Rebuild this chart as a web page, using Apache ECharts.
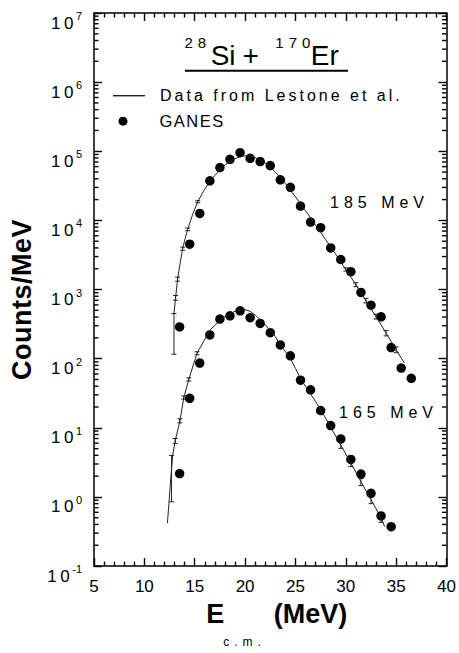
<!DOCTYPE html>
<html><head><meta charset="utf-8">
<script src="https://cdn.jsdelivr.net/npm/echarts@6/dist/echarts.min.js"></script>
<style>html,body{margin:0;padding:0;background:#fff;overflow:hidden}#main{width:459px;height:653px}</style>
</head><body><div id="main"></div>
<script>
// ---------------- data ----------------
const ganes185E = [13.5,14.5,15.5,16.5,17.5,18.5,19.5,20.5,21.5,22.5,23.5,24.5,25.5,26.5,27.5,28.5,29.5,30.5,31.5,32.5,33.5,34.5,35.5,36.5];
const ganes185Counts = [288,4530,12600,37400,58200,76600,95500,79100,71000,62200,38600,30100,16100,9480,7850,4000,2720,1810,910,595,404,145,73.3,52];
const ganes165E = [13.5,14.5,15.5,16.5,17.5,18.5,19.5,20.5,21.5,22.5,23.5,24.5,25.5,26.5,27.5,28.5,29.5,30.5,31.5,32.5,33.5,34.5];
const ganes165Counts = [2.18,26.7,86.5,221,374,417,492,391,324,238,158,110,48.9,35.5,17.8,10.8,6.9,3.49,2.14,1.13,0.532,0.371];

const lestone185E = [12.94,13.1,13.3,13.55,13.8,14.05,14.3,14.8,15.3,15.9,16.5,17.0,17.5,18.0,18.5,19.0,19.5,20.0,20.5,21.0,21.5,22.0,22.5,23.0,23.5,24.0,24.5,25.0,25.5,26.0,26.5,27.0,27.5,28.0,28.5,29.0,29.5,30.0,30.5,31.0,31.5,32.0,32.5,33.0,33.5,34.0,34.5,35.0,35.5,35.82];
const lestone185Counts = [447,759,1413,2399,3890,5495,7413,12300,18600,26900,36300,44700,53700,63100,71600,78500,83200,86100,85100,81300,75000,67600,58900,50100,41700,33900,27500,21900,17400,13800,10960,8510,6760,5250,4170,3240,2510,1950,1510,1175,912,692,525,407,309,234,178,135,102,87];
const lestone165E = [12.29,12.45,12.62,12.81,13.06,13.53,13.92,14.41,15.23,16.54,17.0,17.5,18.0,18.5,19.0,19.5,20.0,20.5,21.0,21.5,22.0,22.5,23.0,23.5,24.0,24.5,25.0,25.5,26.0,26.5,27.0,27.5,28.0,28.5,29.0,29.5,30.0,30.5,31.0,31.5,32.0,32.5,33.0,33.5,33.86];
const lestone165Counts = [0.417,0.851,1.86,3.98,6.46,12.6,27.5,50.1,120,263,302,355,407,447,484,507,513,484,427,367,309,257,209,158,126,100,72.4,51.3,39.8,30.9,24.0,18.2,13.8,10.2,7.59,5.62,4.17,3.09,2.29,1.66,1.23,0.912,0.676,0.490,0.372];

const lestone185ErrE  = [12.94,13.1,13.3,13.8,14.3,15.3,30.0,31.0,32.0,33.0,34.0,35.0];
const lestone185ErrLo = [116,700,1320,3700,7100,18000,1850,1100,640,375,214,122];
const lestone185ErrHi = [450,820,1510,4100,7750,19300,2060,1255,745,440,256,148];
const lestone165ErrE  = [12.7,13.06,13.53,13.92,14.41,15.23,29.5,30.5,31.5,32.5,33.5];
const lestone165ErrLo = [0.85,5.9,11.8,26,47.5,114,5.05,2.75,1.46,0.80,0.43];
const lestone165ErrHi = [3.98,7.0,13.5,29,53,126,6.2,3.43,1.86,1.03,0.55];

const xMin = 5, xMax = 40, xStep = 5;
const yMin = 0.1, yMax = 1e7;
const yDecadeExps = [-1,0,1,2,3,4,5,6];
const minorMultipliers = [2,3,4,5,6,7,8,9];

// ---------------- chart ----------------
const FONT = '"Liberation Sans", Arial, Helvetica, sans-serif';
const INK = '#000';
const zip = (a, b) => a.map((v, i) => [v, b[i]]);
const zip3 = (a, b, c) => a.map((v, i) => [v, b[i], c[i]]);
const minorTickVals = [];
yDecadeExps.forEach(e => minorMultipliers.forEach(m => minorTickVals.push([xMin, m * Math.pow(10, e)])));

function errRender(params, api) {
  const x = api.value(0), lo = api.value(1), hi = api.value(2);
  const pl = api.coord([x, lo]), ph = api.coord([x, hi]);
  const w = 2.5, st = { stroke: '#222', lineWidth: 1 };
  return { type: 'group', children: [
    { type: 'line', shape: { x1: pl[0], y1: pl[1], x2: ph[0], y2: ph[1] }, style: st },
    { type: 'line', shape: { x1: pl[0] - w, y1: pl[1], x2: pl[0] + w, y2: pl[1] }, style: st },
    { type: 'line', shape: { x1: ph[0] - w, y1: ph[1], x2: ph[0] + w, y2: ph[1] }, style: st }
  ]};
}
function minorRender(params, api) {
  const y = api.coord([xMin, api.value(1)])[1];
  const xl = api.coord([xMin, yMin])[0], xr = api.coord([xMax, yMin])[0];
  return { type: 'group', children: [
    { type: 'line', shape: { x1: xl, y1: y, x2: xl + 4.5, y2: y }, style: { stroke: '#000', lineWidth: 1.4 } },
    { type: 'line', shape: { x1: xr - 4.5, y1: y, x2: xr, y2: y }, style: { stroke: '#000', lineWidth: 1.4 } }
  ]};
}

function xAxisCfg(pos, extra) {
  return Object.assign({
    type: 'value', position: pos, min: xMin, max: xMax, interval: xStep,
    axisLine: { show: true, lineStyle: { color: '#000', width: 1.5 } },
    axisTick: { show: true, inside: true, length: 8, lineStyle: { color: '#000', width: 1.4 } },
    minorTick: { show: true, splitNumber: 5, length: 4.5, lineStyle: { color: '#000', width: 1.4 } },
    splitLine: { show: false }
  }, extra);
}
function yAxisCfg(pos, extra) {
  return Object.assign({
    type: 'log', position: pos, min: yMin, max: yMax, splitNumber: 8,
    axisLine: { show: true, lineStyle: { color: '#000', width: 1.5 } },
    axisTick: { show: true, inside: true, length: 8, lineStyle: { color: '#000', width: 1.4 } },
    splitLine: { show: false }
  }, extra);
}

const option = {
  animation: false,
  grid: { left: 92, right: 10, top: 13, bottom: 81 },
  xAxis: [
    xAxisCfg('bottom', {
      axisLabel: { show: true, fontSize: 17, color: INK, margin: 12, fontFamily: FONT },
      name: '{e|E}{s|c.m.}{u|(MeV)}', nameLocation: 'middle', nameGap: 30,
      nameTextStyle: { padding: [0, 0, 0, 13], rich: {
        e: { fontSize: 27, fontWeight: 'bold', lineHeight: 30, verticalAlign: 'top', fontFamily: FONT, color: INK },
        s: { fontSize: 12, lineHeight: 14, padding: [36, 0, 0, 9], verticalAlign: 'top', fontFamily: FONT, color: INK },
        u: { fontSize: 27, fontWeight: 'bold', lineHeight: 30, padding: [0, 0, 0, 18], verticalAlign: 'top', fontFamily: FONT, color: INK }
      }}
    }),
    xAxisCfg('top', { axisLabel: { show: false } })
  ],
  yAxis: [
    yAxisCfg('left', {
      axisLabel: {
        show: true, margin: 12, padding: [12, 0, 0, 0],
        formatter: v => '{a|1}{b|0}{s|' + Math.round(Math.log10(v)) + '}',
        rich: {
          a: { fontSize: 17, lineHeight: 17, padding: [4, 3.5, 0, 0], verticalAlign: 'top', fontFamily: FONT, color: INK },
          b: { fontSize: 17, lineHeight: 17, padding: [4, 0, 0, 0], verticalAlign: 'top', fontFamily: FONT, color: INK },
          s: { fontSize: 11, lineHeight: 11, padding: [0, 0, 0, 2.5], verticalAlign: 'top', fontFamily: FONT, color: INK }
        }
      },
      name: 'Counts/MeV', nameLocation: 'middle', nameGap: 59,
      nameTextStyle: { fontSize: 27, fontWeight: 'bold', color: INK, fontFamily: FONT, padding: [0, 20, 0, 0] }
    }),
    yAxisCfg('right', { axisLabel: { show: false } })
  ],
  legend: [
    { data: [{ name: 'Data from Lestone et al.', icon: 'rect' }], left: 113, top: 87.7, padding: 0,
      itemWidth: 32, itemHeight: 1.4, selectedMode: false, formatter: '{t|{name}}',
      itemStyle: { color: '#222' },
      textStyle: { color: INK, fontSize: 16, fontFamily: FONT,
        rich: { t: { fontSize: 16, lineHeight: 18, padding: [0, 0, 0, 10], fontFamily: FONT, color: INK } } } },
    { data: [{ name: 'GANES', icon: 'circle' }], left: 118.5, top: 112.7, padding: 0, itemWidth: 9, itemHeight: 9,
      selectedMode: false, formatter: '{t|{name}}', itemStyle: { color: '#000', opacity: 1 },
      textStyle: { color: INK, fontSize: 16, fontFamily: FONT,
        rich: { t: { fontSize: 16.5, lineHeight: 18, padding: [0, 0, 0, 27], fontFamily: FONT, color: INK } } } }
  ],
  graphic: [
    { type: 'text', left: 184.4, top: 34.5, z: 10,
      style: { text: '{sp|28}{big|Si}{pl|+}{sp2|170}{er|Er}', fill: INK,
        rich: {
          sp:  { fontSize: 15, lineHeight: 15, verticalAlign: 'top', fontFamily: FONT, fill: INK },
          big: { fontSize: 28, lineHeight: 28, padding: [6.5, 0, 0, 9.6], verticalAlign: 'top', fontFamily: FONT, fill: INK },
          pl:  { fontSize: 28, lineHeight: 28, padding: [6.5, 0, 0, 7], verticalAlign: 'top', fontFamily: FONT, fill: INK },
          sp2: { fontSize: 15, lineHeight: 15, padding: [0, 0, 0, 16.4], verticalAlign: 'top', fontFamily: FONT, fill: INK },
          er:  { fontSize: 28, lineHeight: 28, padding: [6.5, 0, 0, 10.4], verticalAlign: 'top', fontFamily: FONT, fill: INK }
        } } },
    { type: 'line', z: 10, shape: { x1: 185, y1: 70.7, x2: 348, y2: 70.7 }, style: { stroke: INK, lineWidth: 2 } },
    { type: 'text', left: 330, top: 194, z: 10, style: { text: '185 MeV', font: '16px ' + FONT, fill: INK } },
    { type: 'text', left: 339, top: 404.5, z: 10, style: { text: '165 MeV', font: '16px ' + FONT, fill: INK } }
  ],
  series: [
    { name: 'yMinorTicks', type: 'custom', renderItem: minorRender, data: minorTickVals,
      encode: { x: 0, y: 1 }, clip: false, silent: true },
    { name: 'Data from Lestone et al.', type: 'line', data: zip(lestone185E, lestone185Counts),
      symbol: 'none', lineStyle: { color: '#222', width: 1 }, itemStyle: { color: '#222' } },
    { name: 'Data from Lestone et al.', type: 'line', data: zip(lestone165E, lestone165Counts),
      symbol: 'none', lineStyle: { color: '#222', width: 1 }, itemStyle: { color: '#222' } },
    { name: 'err185', type: 'custom', renderItem: errRender, data: zip3(lestone185ErrE, lestone185ErrLo, lestone185ErrHi),
      encode: { x: 0, y: [1, 2] }, silent: true },
    { name: 'err165', type: 'custom', renderItem: errRender, data: zip3(lestone165ErrE, lestone165ErrLo, lestone165ErrHi),
      encode: { x: 0, y: [1, 2] }, silent: true },
    { name: 'GANES', type: 'scatter', data: zip(ganes185E, ganes185Counts), symbol: 'circle', symbolSize: 9.5,
      itemStyle: { color: '#000', opacity: 1 } },
    { name: 'GANES', type: 'scatter', data: zip(ganes165E, ganes165Counts), symbol: 'circle', symbolSize: 9.5,
      itemStyle: { color: '#000', opacity: 1 } }
  ]
};

const chart = echarts.init(document.getElementById('main'), null, { renderer: 'svg' });
chart.setOption(option);

const SPACING = {
  'Data from Lestone et al.': 3, 'GANES': 1.5, '185 MeV': 5, '165 MeV': 5,
  'c.m.': 5, '28': 5, '170': 5, 'Counts/MeV': 0.5
};
function applySpacing() {
  document.querySelectorAll('#main text').forEach(t => {
    const v = SPACING[t.textContent];
    if (v !== undefined) t.style.letterSpacing = v + 'px';
  });
}
applySpacing();
chart.on('finished', applySpacing);
setTimeout(applySpacing, 50);
</script>
</body></html>
